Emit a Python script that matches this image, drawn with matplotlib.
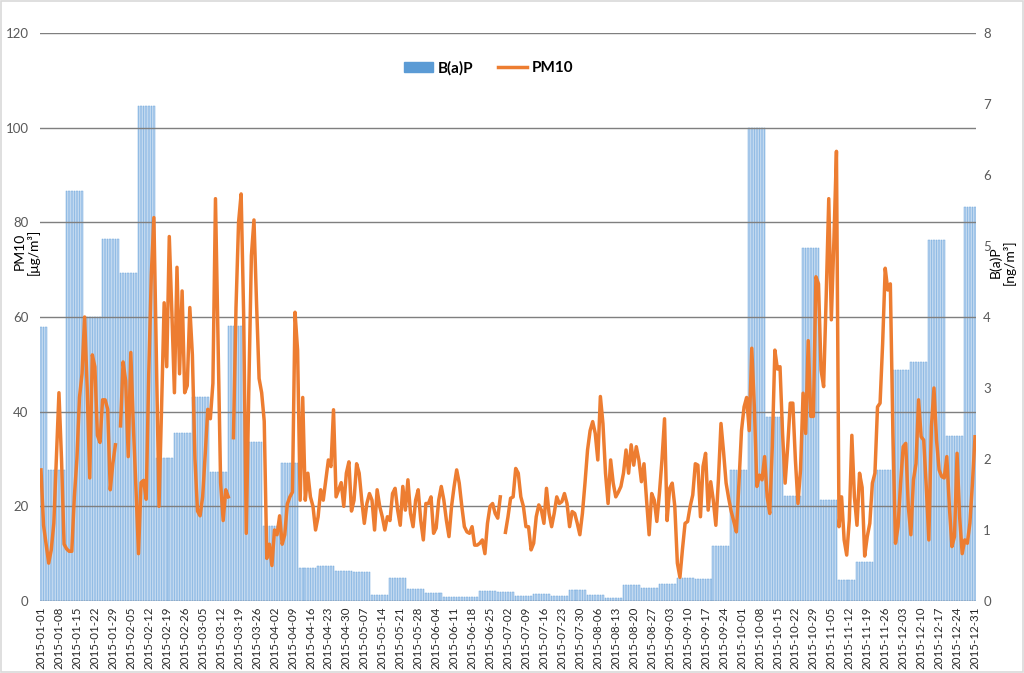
import numpy as np
import matplotlib
matplotlib.use("Agg")
import matplotlib.pyplot as plt
from matplotlib.patches import Rectangle, Patch
from matplotlib.lines import Line2D
import datetime as dt

plt.rcParams['font.family'] = ['Lato', 'DejaVu Sans']

nan = np.nan
# PM10 daily values [ug/m3], 2015 (NaN = missing)
pm10_jan = [27.7, 16, 12, 8, 10.8, 16.4, 30, 44, 30, 12, 11, 10.5, 10.5, 22, 30, 43, 48, 60, 45, 26,
            52, 49.5, 35, 33.5, 42.5, 42.5, 40.5, 23.5, 29, 33, nan]
pm10_feb = [37, 50.5, 46.5, 30.5, 52.5, 37, 24, 10, 25, 25.5, 21.5, 48, 69, 81, 50, 20, 41, 63, 49.5, 77,
            61, 44, 70.5, 48, 65.5, 44, 45.5, 62]
pm10_mar = [52, 30, 19, 18, 22, 31, 40.5, 38.5, 46, 85, 55, 25, 17, 23.5, 22, nan, 34.5, 62, 80, 86,
            60, 14.3, 45, 73, 80.5, 63, 47, 44, 38, 9, 12]
pm10_apr = [7.5, 15, 14, 18, 12, 14, 20.5, 22, 23, 61, 53, 21.3, 43, 21.3, 27, 22, 20, 15, 17.8, 23.5,
            21.3, 25.5, 29.8, 28.4, 40.4, 22, 23.5, 25, 20, 27]
pm10_may = [29.4, 19, 21.3, 29, 27, 21.3, 16.4, 20.6, 22.7, 21.3, 15, 23.5, 20, 17.8, 15, 17.8, 17, 22.7,
            23.8, 19.2, 16, 24.2, 19.2, 25.6, 18.5, 15.7, 21.3, 23.5, 17, 12.9, 20.6]
pm10_jun = [20.6, 22, 14.3, 15.4, 21.3, 24.2, 21.3, 17, 13.6, 20, 24.2, 27.7, 24.9, 20, 15.7, 14.6, 14.3,
            15.7, 11.8, 11.8, 12.2, 12.9, 10, 16.4, 20, 20.6, 18.5, 17.5, 22, nan]
pm10_jul = [14.5, 17.8, 21.7, 22, 28, 27, 22, 20, 15.7, 15.7, 10.8, 12.2, 17.8, 20.3, 19.2, 16.4, 23.8,
            18.5, 15.7, 18.5, 22, 20.6, 21, 22.7, 20.6, 15.7, 18.9, 18.5, 16.4, 14, 18.5]
pm10_aug = [24.9, 31.9, 36, 37.9, 35.4, 29.8, 43.2, 37.5, 27, 20.6, 29.8, 24.9, 22, 23, 24.2, 27, 31.9,
            27, 33, 28.7, 32.6, 29.8, 25.2, 29, 21.3, 14, 22.7, 21.3, 16.8, 22.7, 29.8]
pm10_sep = [38.5, 17, 23.8, 24.9, 20, 8, 5, 11, 16.4, 16.8, 20, 22.4, 29, 28.7, 17.8, 28.4, 31.2, 19.2,
            25.2, 21.3, 16, 25.6, 37.5, 31.5, 24.9, 21.7, 18.9, 16.8, 14.6, 24.9]
pm10_oct = [36, 41, 43, 36, 53.4, 41, 24.2, 26.6, 25.6, 30.5, 22, 18.5, 32.6, 53, 49, 49.5, 35.4, 24.9,
            32.6, 41.8, 41.8, 29.8, 20.6, 27.7, 43.9, 35.4, 55, 39, 39, 68.5, 67]
pm10_nov = [48.8, 45.3, 64.3, 85, 59.4, 76, 95, 15.7, 22, 12.9, 9.7, 17, 35, 22, 16, 27, 24, 9.5, 13.6,
            16.4, 24.9, 27, 41, 41.8, 54.4, 70.3, 65.7, 67, 35.4, 12.2]
pm10_dec = [15.7, 24.9, 32.6, 33.3, 20, 14, 25.6, 29, 42.5, 34.7, 34, 24.2, 12.9, 36.8, 45, 34, 27.7,
            26.3, 26, 30.5, 20, 11.5, 13.6, 31.2, 17.8, 10, 12.9, 12.2, 16.4, 24.9, 34.7]

# B(a)P weekly values [ng/m3]; each value holds for its period (first: Jan 1-3, then Sun-Sat weeks)
bap_period_start = ['2015-01-01'] + [(dt.date(2015, 1, 4) + dt.timedelta(days=7 * k)).isoformat() for k in range(52)]
bap_values = [3.86, 1.85, 5.77, 4.00, 5.10, 4.62, 6.97, 2.01, 2.36, 2.87, 1.82, 3.87, 2.24, 1.05, 1.95,
              0.47, 0.50, 0.42, 0.41, 0.085, 0.32, 0.17, 0.11, 0.06, 0.05, 0.145, 0.13, 0.075, 0.10,
              0.075, 0.155, 0.085, 0.04, 0.22, 0.19, 0.24, 0.32, 0.31, 0.77, 1.85, 6.66, 2.59, 1.48,
              4.97, 1.42, 0.30, 0.545, 1.84, 3.25, 3.36, 5.08, 2.33, 5.55]

left_ticks = [0, 20, 40, 60, 80, 100, 120]
right_ticks = [0, 1, 2, 3, 4, 5, 6, 7, 8]

pm10 = np.array(pm10_jan + pm10_feb + pm10_mar + pm10_apr + pm10_may + pm10_jun +
                pm10_jul + pm10_aug + pm10_sep + pm10_oct + pm10_nov + pm10_dec, dtype=float)
dates = [dt.date(2015, 1, 1) + dt.timedelta(days=i) for i in range(365)]
date_labels = [d.isoformat() for d in dates]

# expand weekly B(a)P to days
starts = [dt.date.fromisoformat(s) for s in bap_period_start]
bap_daily = np.zeros(365)
for k, s in enumerate(starts):
    i0 = (s - dates[0]).days
    i1 = (starts[k + 1] - dates[0]).days if k + 1 < len(starts) else 365
    bap_daily[i0:min(i1, 365)] = bap_values[k]

x = np.arange(365)

W, H = 1024, 673
fig = plt.figure(figsize=(W / 100, H / 100), dpi=100)
ax_l, ax_r_px, ax_t, ax_b = 39.7, 976.3, 33, 601
ax = fig.add_axes([ax_l / W, 1 - ax_b / H, (ax_r_px - ax_l) / W, (ax_b - ax_t) / H])
ax2 = ax.twinx()
ax.set_zorder(ax2.get_zorder() + 1)
ax.patch.set_visible(False)

ax2.bar(x, bap_daily, width=0.62, color='#B4D1EE', edgecolor='#6FA6DA', linewidth=0.35)
ax.plot(x, pm10, color='#ED7D31', linewidth=2.5, solid_joinstyle='round')

ax.set_xlim(-0.5, 364.5)
ax.set_ylim(0, 120)
ax2.set_ylim(0, 8)
ax.set_yticks(left_ticks)
ax2.set_yticks(right_ticks)
ax.grid(axis='y', color='#7F7F7F', linewidth=1.0)
ax.set_axisbelow(True)

tick_idx = list(range(0, 365, 7))
ax.set_xticks(tick_idx)
ax.set_xticklabels([date_labels[i] for i in tick_idx], rotation=90, fontsize=8.3, color='#262626')
ax.tick_params(axis='x', length=0, pad=4)
ax.tick_params(axis='y', length=0, pad=8, labelsize=9.5, labelcolor='#595959')
ax2.tick_params(axis='y', length=0, pad=5, labelsize=9.5, labelcolor='#595959')
for a in (ax, ax2):
    for sp in a.spines.values():
        sp.set_visible(False)

ax.set_ylabel('PM10\n[\u03bcg/m\u00b3]', fontsize=10, color='#000000', linespacing=1.1)
ax.yaxis.set_label_coords(0.0, 0.615)
ax2.set_ylabel('B(a)P\n[ng/m\u00b3]', fontsize=10, color='#000000', linespacing=1.1, rotation=90)
ax2.yaxis.set_label_coords(1.0135, 0.597)

handles = [Patch(facecolor='#5B9BD5', edgecolor='#5B9BD5', label='B(a)P'),
           Line2D([0], [0], color='#ED7D31', linewidth=2.5, label='PM10')]
fig.legend(handles=handles, loc='center', bbox_to_anchor=(0.477, 0.899), ncol=2, frameon=False,
           prop={'weight': 'bold', 'size': 11}, handlelength=1.9, handleheight=0.6,
           columnspacing=1.6, handletextpad=0.3)

fig.patches.append(Rectangle((0.001, 0.001), 0.998, 0.998, transform=fig.transFigure, fill=False,
                             edgecolor='#D9D9D9', linewidth=1.2))

fig.savefig('out.png', dpi=100)
